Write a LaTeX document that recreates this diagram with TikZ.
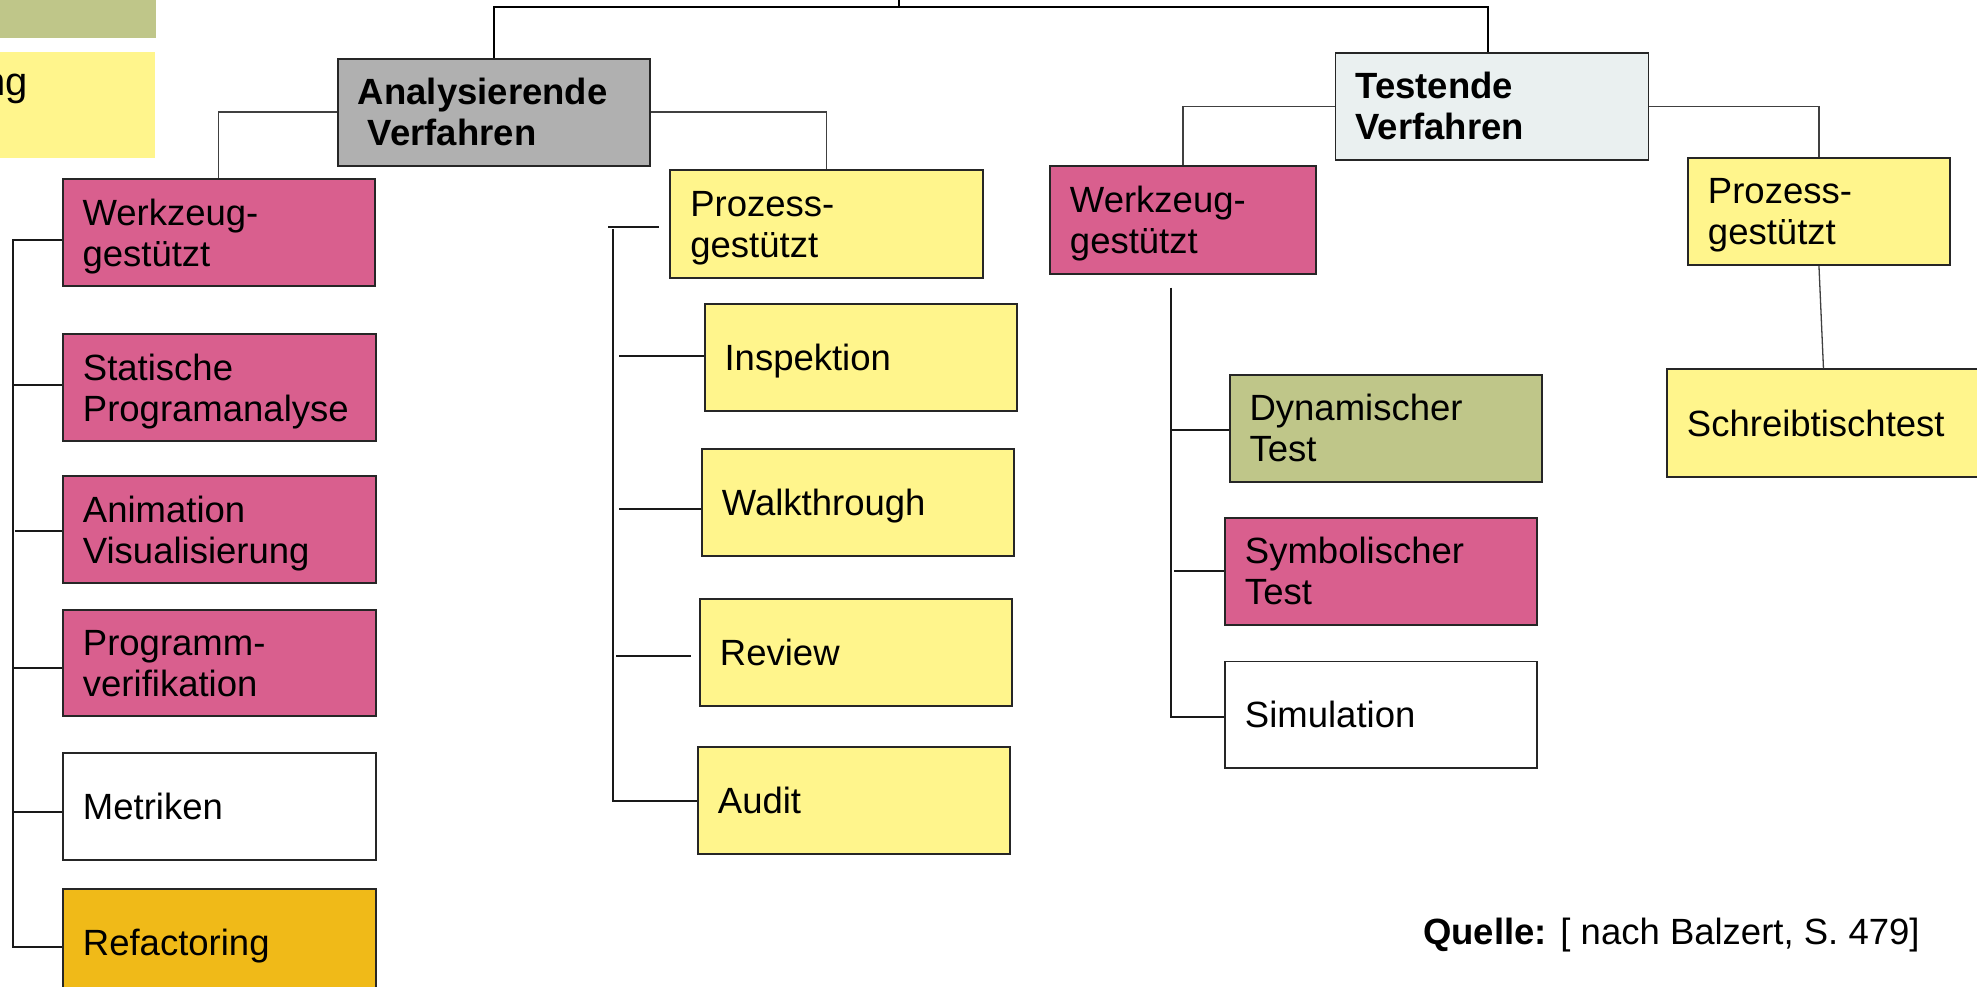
\documentclass[tikz,border=0pt]{standalone}
\usepackage{fontspec}
\setmainfont{Liberation Sans}
\definecolor{graybox}{HTML}{B0B0B0}
\definecolor{lightbox}{HTML}{EAF0F0}
\definecolor{pinkfill}{HTML}{D95F8E}
\definecolor{yellowfill}{HTML}{FFF58C}
\definecolor{olivefill}{HTML}{BFC689}
\definecolor{orangefill}{HTML}{F0BA18}
\tikzset{
  box/.style={draw=black!85, line width=1.9pt, rectangle, anchor=north west,
    inner xsep=20pt, inner ysep=0pt, align=left,
    font=\fontsize{36.5}{41}\selectfont, text height=26.1pt, text depth=0pt},
  sz/.style 2 args={minimum width=#1pt, text width=#1pt-40pt, minimum height=#2pt},
  two/.style={text depth=41pt},
  bar/.style={line width=2pt, draw=black},
  thinlink/.style={line width=1.3pt, draw=black!75},
  link/.style={line width=2pt, draw=black!90},
  plain/.style={inner sep=0pt, font=\fontsize{36.5}{41}\selectfont}
}
\begin{document}
\begin{tikzpicture}[x=1pt,y=-1pt]
\useasboundingbox (0,0) rectangle (1977,987);

% legend fragments at the upper left
\fill[olivefill] (-5,-5) rectangle (156,37.7);
\fill[yellowfill] (-5,51.7) rectangle (155,157.7);
\node[plain, anchor=base east, font=\fontsize{40}{46}\selectfont] (leg) at (28,96) {ng};

% main categories
\node[box, sz={311.7}{107}, two, fill=graybox, font=\fontsize{36.5}{41}\selectfont\bfseries]
  (ana) at (337,57.7) {Analysierende\\\hspace*{10pt}Verfahren};
\node[box, sz={313}{107}, two, fill=lightbox, font=\fontsize{36.5}{41}\selectfont\bfseries]
  (tst) at (1334.5,52) {Testende\\Verfahren};

% sub categories
\node[box, sz={312.4}{106.7}, two, fill=pinkfill]   (wzA) at (61.6,178.3) {Werkzeug-\\gestützt};
\node[box, sz={312.2}{107.7}, two, fill=yellowfill] (prA) at (669.4,169) {Prozess-\\gestützt};
\node[box, sz={266}{107.7}, two, fill=pinkfill]     (wzT) at (1049,165) {Werkzeug-\\gestützt};
\node[box, sz={262}{107.3}, two, fill=yellowfill]   (prT) at (1687,156.7) {Prozess-\\gestützt};

% tool supported analysis
\node[box, sz={313}{107.3}, two, fill=pinkfill] (sp) at (62,332.9) {Statische\\Programanalyse};
\node[box, sz={313}{106.5}, two, fill=pinkfill] (an) at (62,475.3) {Animation\\Visualisierung};
\node[box, sz={313}{106}, two, fill=pinkfill]   (pv) at (62,609) {Programm-\\verifikation};
\node[box, sz={313}{107}, fill=white]           (mt) at (62,752.2) {Metriken};
\node[box, sz={313}{107}, fill=orangefill]      (rf) at (62,888) {Refactoring};

% process supported analysis
\node[box, sz={312.4}{107}, fill=yellowfill] (insp) at (703.6,303) {Inspektion};
\node[box, sz={312}{107.2}, fill=yellowfill] (walk) at (701,447.8) {Walkthrough};
\node[box, sz={312}{107}, fill=yellowfill]   (rev)  at (699,598) {Review};
\node[box, sz={312}{107}, fill=yellowfill]   (aud)  at (697,746) {Audit};

% tool supported testing
\node[box, sz={312}{107}, two, fill=olivefill] (dyn) at (1228.6,373.9) {Dynamischer\\Test};
\node[box, sz={311.6}{107.2}, two, fill=pinkfill] (sym) at (1224,516.8) {Symbolischer\\Test};
\node[box, sz={311.6}{106.5}, fill=white] (sim) at (1224,660.5) {Simulation};

% process supported testing
\node[box, sz={313}{107.7}, fill=yellowfill] (sch) at (1666,368.3) {Schreibtischtest};

% source note
\node[plain, anchor=base west] (src) at (1423,944) {\textbf{Quelle:} [ nach Balzert, S. 479]};

% top level bar
\coordinate (top) at (898.5,7);
\coordinate (rootin) at (898.5,-2);
\draw[bar] (rootin) -- (top);
\draw[bar] (ana.north) |- (top) -| ([xshift=-4pt]tst.north);

% category connectors
\draw[thinlink] (ana.west) -| (wzA.north);
\draw[thinlink] (ana.east) -| (prA.north);
\draw[thinlink] (tst.west) -| (wzT.north);
\draw[thinlink] (tst.east) -| (prT.north);
\draw[thinlink] (prT.south) -- (sch.north);

% left trunk
\coordinate (trA) at (13.4,0);
\draw[link] ([yshift=-7.6pt]wzA.west) -| ([yshift=-5pt]rf.west -| trA) -- ([yshift=-5pt]rf.west);
\draw[link] ([yshift=3pt]sp.west) -- ([yshift=3pt]sp.west -| trA);
\draw[link] ([yshift=-1.5pt]an.west) -- ([xshift=2pt,yshift=-1.5pt]an.west -| trA);
\draw[link] ([yshift=-5pt]pv.west) -- ([yshift=-5pt]pv.west -| trA);
\draw[link] ([yshift=-5.7pt]mt.west) -- ([yshift=-5.7pt]mt.west -| trA);

% middle trunk
\coordinate (trB) at (612.5,0);
\draw[link] ([xshift=-10.7pt,yshift=-3pt]prA.west) -- ([xshift=-4.5pt,yshift=-3pt]prA.west -| trB);
\draw[link] ([yshift=-5pt]prA.west -| trB) -- ([yshift=-0.5pt]aud.west -| trB) -- ([yshift=-0.5pt]aud.west);
\draw[link] ([yshift=1.8pt]insp.west) -- ([xshift=6.5pt,yshift=1.8pt]insp.west -| trB);
\draw[link] ([yshift=-6.6pt]walk.west) -- ([xshift=6pt,yshift=-6.6pt]walk.west -| trB);
\draw[link] ([xshift=-8.4pt,yshift=-4pt]rev.west) -- ([xshift=3.5pt,yshift=-4pt]rev.west -| trB);

% right trunk
\coordinate (trC) at (1171.4,0);
\draw[link] ([yshift=-13pt]wzT.south -| trC) -- ([yshift=-2.2pt]sim.west -| trC) -- ([yshift=-2.2pt]sim.west);
\draw[link] ([yshift=-1.9pt]dyn.west) -- ([yshift=-1.9pt]dyn.west -| trC);
\draw[link] (sym.west) -- ([xshift=2.3pt]sym.west -| trC);
\end{tikzpicture}
\end{document}
